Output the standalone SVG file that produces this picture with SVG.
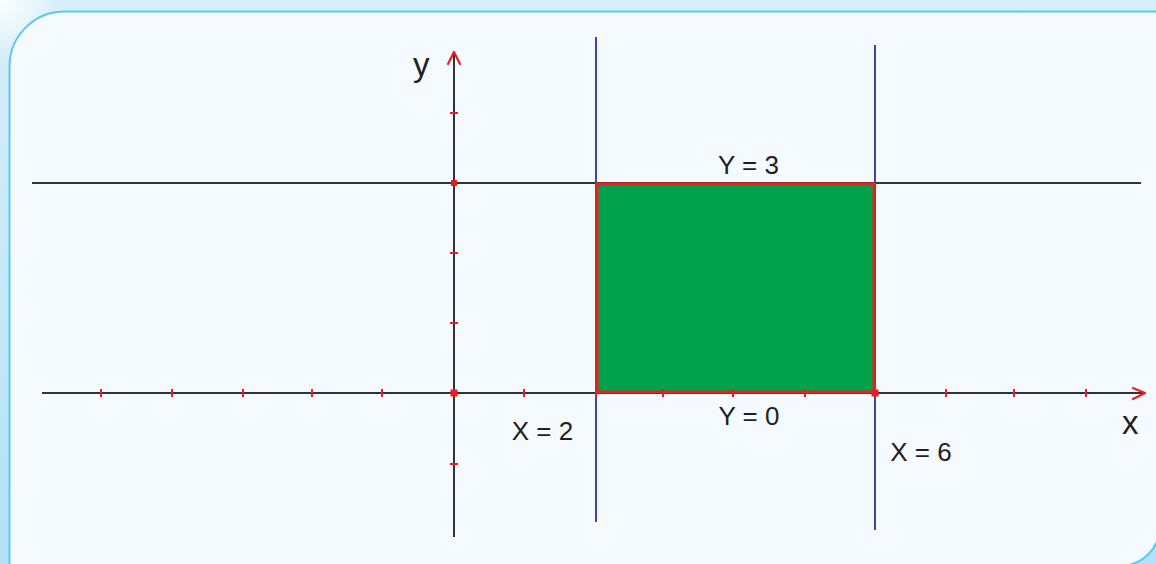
<svg xmlns="http://www.w3.org/2000/svg" width="1156" height="564" viewBox="0 0 1156 564">
<defs>
<linearGradient id="topg" x1="0" y1="0" x2="0" y2="1">
<stop offset="0" stop-color="#d6effb"/>
<stop offset="1" stop-color="#b3e1f7"/>
</linearGradient>
<radialGradient id="glow" cx="0" cy="0" r="1" gradientUnits="userSpaceOnUse" gradientTransform="translate(0 0) scale(60)">
<stop offset="0" stop-color="#ffffff"/>
<stop offset="1" stop-color="#ffffff" stop-opacity="0"/>
</radialGradient>
<style>
.ax{stroke:#333333;stroke-width:2;fill:none}
.bl{stroke:#45459e;stroke-width:2;fill:none}
.tk{stroke:#ed1c24;stroke-width:2;fill:none}
.arr{stroke:#ed1c24;stroke-width:2.2;fill:none;stroke-linecap:round;stroke-linejoin:round}
.dot{fill:#ed1c24}
.lbl{font-family:"Liberation Sans",Arial,sans-serif;font-size:26px;fill:#231f20;text-anchor:middle}
.axl{font-family:"Liberation Sans",Arial,sans-serif;font-size:33px;fill:#231f20}
</style>
</defs>
<g id="background">
<rect x="0" y="0" width="1156" height="564" fill="url(#topg)"/>
<rect x="0" y="0" width="80" height="80" fill="url(#glow)"/>
<path d="M9.5 570 L9.5 66.5 A55 55 0 0 1 64.5 11.5 L1160 11.5 L1160 526 A40 40 0 0 1 1120 566 Z" fill="#f5faff" stroke="#5bc8ef" stroke-width="2"/>
</g>
<g id="connectors">
<line class="ax" x1="32" y1="183" x2="1141" y2="183"/>
<line class="ax" x1="42" y1="393" x2="1144" y2="393"/>
<line class="ax" x1="454" y1="537" x2="454" y2="53"/>
<line class="bl" x1="596" y1="37" x2="596" y2="522"/>
<line class="bl" x1="875" y1="45" x2="875" y2="530"/>
<polyline class="arr" points="1133,388 1145,393 1133,399"/>
<polyline class="arr" points="448,64 454,52 460,64"/>
</g>
<g id="region">
<rect x="597" y="184" width="277" height="208" fill="#00a24b" stroke="#e52421" stroke-width="3"/>
</g>
<g id="ticks">
<path class="tk" d="M101 389v8M172 389v8M243 389v8M312 389v8M382 389v8M524 389v8M596 389v8M663 389v8M733 389v8M805 389v8M946 389v8M1014 389v8M1086 389v8"/>
<path class="tk" d="M450 113h8M450 253h8M450 323h8M450 464h8"/>
<rect class="dot" x="450.5" y="389.5" width="7" height="7"/>
<rect class="dot" x="451" y="180" width="6" height="6"/>
<rect class="dot" x="871.5" y="389.5" width="7" height="7"/>
</g>
<g id="labels">
<text class="axl" x="413" y="76">y</text>
<text class="axl" x="1122" y="434">x</text>
<text class="lbl" x="748.5" y="174">Y = 3</text>
<text class="lbl" x="749" y="425">Y = 0</text>
<text class="lbl" x="542.5" y="440">X = 2</text>
<text class="lbl" x="921" y="461">X = 6</text>
</g>
</svg>
